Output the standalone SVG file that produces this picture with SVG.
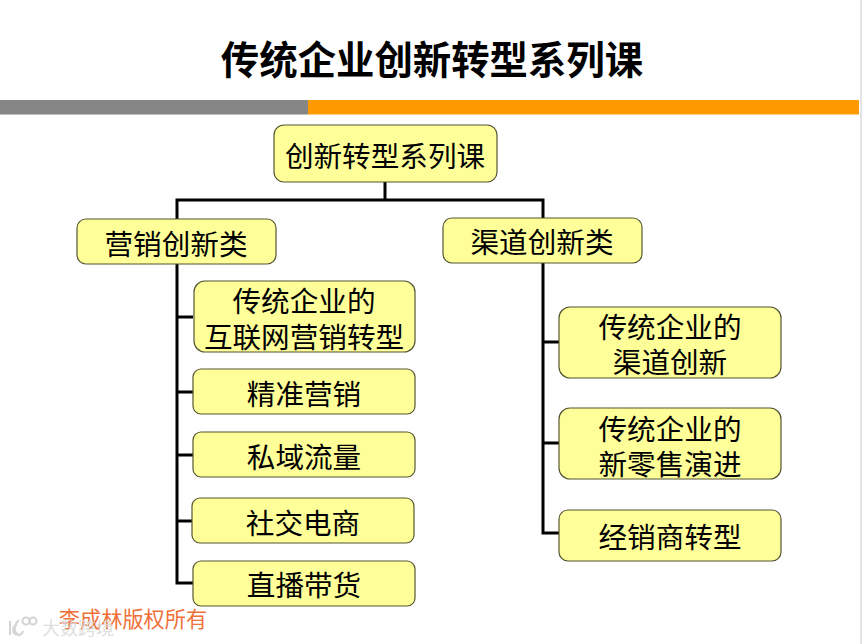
<svg xmlns="http://www.w3.org/2000/svg" width="862" height="644" viewBox="0 0 862 644">
<style>
text{font-family:"Liberation Sans","Noto Sans CJK SC",sans-serif;text-anchor:middle;fill:#000}
.n rect{fill:#ffff99;stroke:#555533;stroke-width:1.2}
.n text{font-size:28.6px}
.c path{fill:none;stroke:#000;stroke-width:3}
.w{fill:none;stroke:#d4d4d4;stroke-width:2}
</style>
<rect width="862" height="644" fill="#fff"/>
<rect x="860" y="0" width="2" height="644" fill="#e4e4e4"/>
<text x="432" y="74" style="font-size:38.4px;font-weight:700">传统企业创新转型系列课</text>
<rect x="0" y="100" width="308" height="14.5" fill="#868686"/>
<rect x="308" y="100" width="551" height="14.5" fill="#ff9900"/>
<g id="connectors" class="c">
<path d="M385 182V200M177 219V200H543V218"/>
<path d="M177 264V583H193M177 317H193M177 392H193M177 455H193M177 521H192"/>
<path d="M543 263V533H559M543 342H559M543 443H559"/>
</g>
<g id="root" class="n"><rect x="274" y="125" width="223" height="57" rx="10"/><text x="385" y="167">创新转型系列课</text></g>
<g id="marketing" class="n"><rect x="77" y="219" width="199" height="45" rx="9"/><text x="176" y="255">营销创新类</text></g>
<g id="channel" class="n"><rect x="443" y="218" width="199" height="45" rx="9"/><text x="542" y="253">渠道创新类</text></g>
<g id="m1" class="n"><rect x="194" y="281" width="221" height="71" rx="11"/><text x="304" y="312">传统企业的</text><text x="304" y="348">互联网营销转型</text></g>
<g id="m2" class="n"><rect x="193" y="369" width="222" height="45" rx="8"/><text x="304" y="405">精准营销</text></g>
<g id="m3" class="n"><rect x="193" y="432" width="222" height="45" rx="8"/><text x="304" y="468">私域流量</text></g>
<g id="m4" class="n"><rect x="192" y="498" width="222" height="45" rx="8"/><text x="303" y="534">社交电商</text></g>
<g id="m5" class="n"><rect x="193" y="561" width="222" height="45" rx="8"/><text x="304" y="596">直播带货</text></g>
<g id="c1" class="n"><rect x="559" y="307" width="222" height="71" rx="11"/><text x="670" y="338">传统企业的</text><text x="670" y="373">渠道创新</text></g>
<g id="c2" class="n"><rect x="559" y="408" width="222" height="71" rx="11"/><text x="670" y="440">传统企业的</text><text x="670" y="475">新零售演进</text></g>
<g id="c3" class="n"><rect x="559" y="510" width="222" height="51" rx="9"/><text x="670" y="548">经销商转型</text></g>
<text x="133" y="627" style="font-size:21.2px;fill:#f0703a">李成林版权所有</text>
<path class="w" d="M10 621V635M19 620C13 626 13 632 20 636M17 625a5 5 0 1 0 6 6"/>
<circle class="w" cx="26" cy="621" r="3.5"/>
<circle class="w" cx="33" cy="621" r="3.5"/>
<text x="78" y="635" style="font-size:18px;fill:#d8d8d8;fill-opacity:.85">大数跨境</text>
</svg>
